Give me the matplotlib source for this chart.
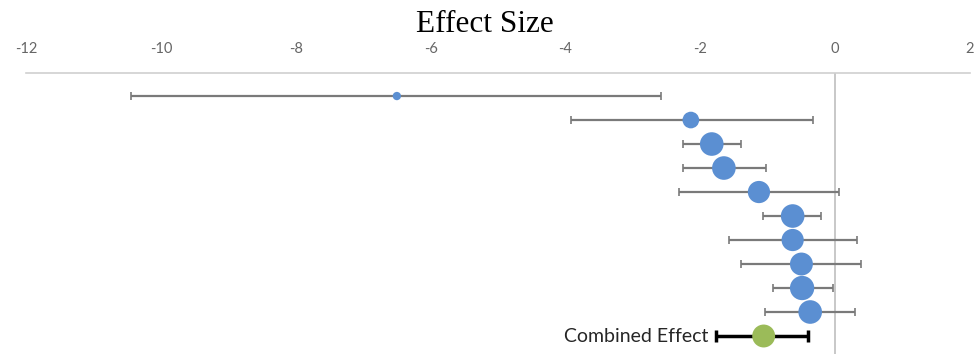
import matplotlib.pyplot as plt

# study estimates (top to bottom)
effect = [-6.50, -2.14, -1.83, -1.65, -1.13, -0.63, -0.63, -0.50, -0.49, -0.37]
lower = [-10.45, -3.92, -2.26, -2.26, -2.31, -1.07, -1.57, -1.40, -0.92, -1.04]
upper = [-2.58, -0.33, -1.40, -1.03, 0.06, -0.21, 0.33, 0.39, -0.03, 0.30]
weight = [6, 12, 17, 17, 16, 17, 16, 16.5, 17.5, 17]  # marker diameter (pt)

combined = -1.06
combined_lo = -1.76
combined_hi = -0.40

xticks = [-12, -10, -8, -6, -4, -2, 0, 2]

fig = plt.figure(figsize=(9.76, 3.54), dpi=100)
ax = fig.add_axes([26 / 976, 0.0, (970 - 26) / 976, 1 - 73 / 354])

rows = list(range(len(effect)))
for i in rows:
    ax.errorbar(effect[i], i,
                xerr=[[effect[i] - lower[i]], [upper[i] - effect[i]]],
                fmt='none', ecolor='#7a7a7a', elinewidth=1.6, capsize=3, capthick=1.2, zorder=2)
ax.scatter(effect, rows, s=[w ** 2 for w in weight], color='#5b8fd2', edgecolors='none', zorder=3)

cy = len(effect)
ax.errorbar(combined, cy, xerr=[[combined - combined_lo], [combined_hi - combined]],
            fmt='none', ecolor='black', elinewidth=2.5, capsize=4, capthick=2.5, zorder=2)
ax.scatter([combined], [cy], s=16.5 ** 2, color='#9bbb59', edgecolors='none', zorder=3)
ax.text(combined_lo - 0.12, cy, 'Combined Effect', ha='right', va='center',
        fontsize=14, family='Lato', color='#262626')

ax.axvline(0, color='#bfbfbf', lw=1.2, zorder=1)

ax.set_xlim(-12, 2)
ax.set_ylim(10.75, -0.96)
ax.set_xticks(xticks)
ax.set_xticklabels([str(t) for t in xticks], family='Lato', fontsize=10.5, color='#666666')
ax.xaxis.tick_top()
ax.tick_params(axis='x', length=0, pad=12)
ax.set_yticks([])
for s in ['left', 'right', 'bottom']:
    ax.spines[s].set_visible(False)
ax.spines['top'].set_color('#d0d0d0')
ax.spines['top'].set_linewidth(1.2)

fig.text(485 / 976, 1 - 24 / 354, 'Effect Size', ha='center', va='center',
         fontsize=22.5, family='Liberation Serif', color='black')

fig.savefig('out.png', dpi=100)
